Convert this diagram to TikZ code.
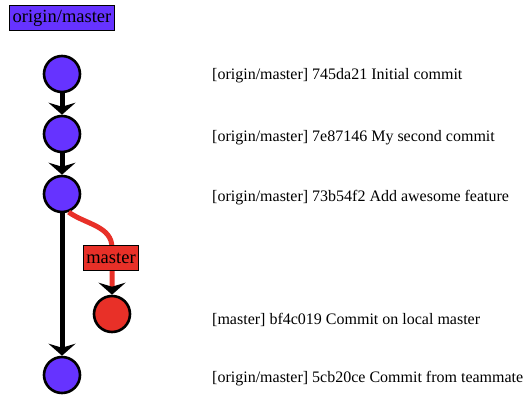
\documentclass[tikz,border=0pt]{standalone}
\usepackage{fontspec}
\setmainfont{Liberation Serif}
\usetikzlibrary{arrows.meta, positioning}
\definecolor{mypurple}{RGB}{102,51,255}
\definecolor{myred}{RGB}{232,48,40}
\tikzset{
  commit/.style={circle, draw=black, fill=mypurple, line width=2.6pt,
    minimum size=36pt, inner sep=0pt},
  redcommit/.style={commit, fill=myred},
  branchlabel/.style={rectangle, draw=black, fill=mypurple, line width=1.6pt,
    inner xsep=3pt, inner ysep=0pt, minimum height=25pt,
    font=\fontsize{18.5}{20}\selectfont},
  msg/.style={anchor=west, inner sep=0pt, font=\fontsize{16}{18}\selectfont},
  arrow/.style={line width=5pt, color=black,
    -{Stealth[length=12pt, width=27pt, inset=4pt]}},
  redarrow/.style={line width=5pt, color=myred,
    -{Stealth[black, length=12pt, width=27pt, inset=4pt]}}
}
\begin{document}
\begin{tikzpicture}[x=1pt, y=-1pt]
  \useasboundingbox (0,0) rectangle (532,402);

  % commits
  \node[commit] (c1) at (62,74) {};
  \node[commit] (c2) at (62,134) {};
  \node[commit] (c3) at (62,194) {};
  \node[redcommit] (cm) at (112,314) {};
  \node[commit] (c5) at (62,375) {};

  % history
  \draw[arrow] (c1) -- (c2);
  \draw[arrow] (c2) -- (c3);
  \draw[arrow] (c3) -- (c5);
  \coordinate (bend) at (112,248);
  \draw[redarrow] (c3.-70) to[out=-35, in=90] (bend) -- (cm);

  % branch labels
  \node[branchlabel] (origin) at (62,18) {origin/master};
  \node[branchlabel, fill=myred] (master) at (111,258) {master};

  % commit messages
  \node[msg] (m1) at (212,76) {[origin/master] 745da21 Initial commit};
  \node[msg] (m2) at (212,138) {[origin/master] 7e87146 My second commit};
  \node[msg] (m3) at (212,198) {[origin/master] 73b54f2 Add awesome feature};
  \node[msg] (m4) at (212,320) {[master] bf4c019 Commit on local master};
  \node[msg] (m5) at (212,379) {[origin/master] 5cb20ce Commit from teammate};
\end{tikzpicture}
\end{document}
